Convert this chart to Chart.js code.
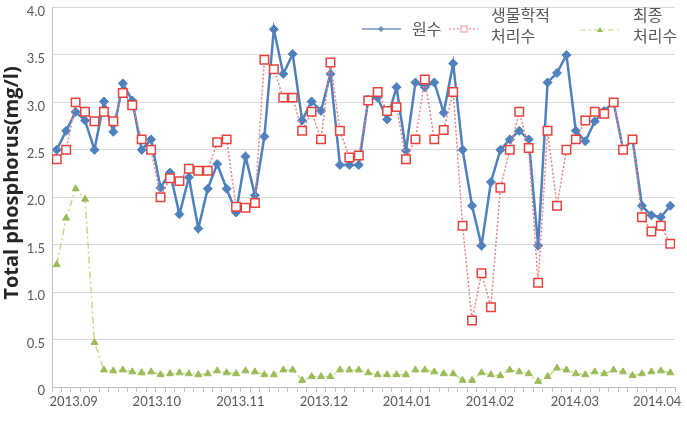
<!DOCTYPE html>
<html>
<head>
<meta charset="utf-8">
<script src="https://cdn.jsdelivr.net/npm/chart.js@4.4.1/dist/chart.umd.min.js"></script>
<style>
  html, body { margin: 0; padding: 0; background: #fff; }
</style>
</head>
<body>
<canvas id="myChart" width="687" height="432"></canvas>
<script>
// values, one per sampling date
const rawWater = [2.50, 2.70, 2.90, 2.81, 2.50, 3.01, 2.69, 3.20, 3.02, 2.50,
  2.61, 2.10, 2.26, 1.82, 2.21, 1.67, 2.09, 2.35, 2.09, 1.84,
  2.43, 2.02, 2.64, 3.77, 3.30, 3.51, 2.81, 3.01, 2.91, 3.30,
  2.34, 2.34, 2.34, 3.03, 3.05, 2.82, 3.16, 2.49, 3.21, 3.16,
  3.21, 2.89, 3.41, 2.50, 1.91, 1.49, 2.16, 2.50, 2.61, 2.70,
  2.61, 1.49, 3.21, 3.31, 3.50, 2.70, 2.59, 2.80, 2.91, 3.00,
  2.50, 2.61, 1.91, 1.81, 1.79, 1.91];

const bioTreated = [2.40, 2.50, 3.00, 2.90, 2.80, 2.90, 2.80, 3.10, 2.97, 2.61,
  2.50, 2.00, 2.20, 2.17, 2.30, 2.28, 2.28, 2.58, 2.61, 1.90,
  1.89, 1.94, 3.45, 3.35, 3.05, 3.05, 2.70, 2.90, 2.61, 3.42,
  2.70, 2.42, 2.44, 3.02, 3.11, 2.91, 2.95, 2.40, 2.61, 3.24,
  2.61, 2.71, 3.11, 1.70, 0.70, 1.20, 0.84, 2.10, 2.50, 2.90,
  2.52, 1.10, 2.70, 1.91, 2.50, 2.61, 2.81, 2.90, 2.88, 3.00,
  2.50, 2.61, 1.79, 1.64, 1.70, 1.51];

const finalTreated = [1.29, 1.78, 2.09, 1.98, 0.47, 0.18, 0.17, 0.18, 0.16, 0.15,
  0.16, 0.13, 0.14, 0.15, 0.14, 0.13, 0.14, 0.17, 0.15, 0.14,
  0.17, 0.16, 0.13, 0.13, 0.18, 0.18, 0.07, 0.11, 0.11, 0.11,
  0.18, 0.18, 0.18, 0.15, 0.13, 0.13, 0.13, 0.13, 0.18, 0.18,
  0.16, 0.14, 0.14, 0.07, 0.07, 0.15, 0.13, 0.12, 0.18, 0.16,
  0.14, 0.06, 0.11, 0.20, 0.18, 0.14, 0.13, 0.16, 0.14, 0.18,
  0.16, 0.12, 0.14, 0.16, 0.17, 0.15];

// month tick labels and where they sit along the sample index
const monthLabels = ['2013.09', '2013.10', '2013.11', '2013.12', '2014.01', '2014.02', '2014.03', '2014.04'];
const monthPos = [1.8, 10.6, 19.45, 28.3, 37.1, 45.9, 54.9, 63.6];

const seriesNames = ['원수', '생물학적 처리수', '최종 처리수'];
const yTitle = 'Total phosphorus(mg/l)';

function toPoints(arr) {
  return arr.map((v, i) => ({ x: i, y: v }));
}

// legend drawn inside the plot, top right, plus the y title
const insideLegend = {
  id: 'insideLegend',
  afterDraw(chart) {
    const c = chart.ctx;
    c.save();

    // 원수
    c.strokeStyle = '#97add0';
    c.lineWidth = 2;
    c.beginPath(); c.moveTo(362, 29); c.lineTo(401, 29); c.stroke();
    c.fillStyle = '#6f8fbf';
    c.beginPath(); c.moveTo(381, 26); c.lineTo(384, 29); c.lineTo(381, 32); c.lineTo(378, 29); c.closePath(); c.fill();

    // 생물학적 처리수
    c.strokeStyle = '#f1a3a3';
    c.lineWidth = 1.5;
    c.setLineDash([2, 2]);
    c.beginPath(); c.moveTo(449, 29); c.lineTo(478, 29); c.stroke();
    c.setLineDash([]);
    c.fillStyle = '#fff';
    c.strokeStyle = '#e89090';
    c.lineWidth = 1;
    c.fillRect(461, 26, 6, 6);
    c.strokeRect(461, 26, 6, 6);

    // 최종 처리수
    c.strokeStyle = '#d6e3a6';
    c.lineWidth = 1.5;
    c.setLineDash([6, 3, 2, 3]);
    c.beginPath(); c.moveTo(580, 30); c.lineTo(620, 30); c.stroke();
    c.setLineDash([]);
    c.fillStyle = '#9bbb59';
    c.beginPath(); c.moveTo(600, 27); c.lineTo(603, 32); c.lineTo(597, 32); c.closePath(); c.fill();

    c.font = '16px "Noto Sans CJK KR"';
    c.fillStyle = '#595959';
    c.textBaseline = 'middle';
    c.textAlign = 'left';
    c.fillText('원수', 412, 29);
    c.fillText('생물학적', 491, 15);
    c.fillText('처리수', 491, 36);
    c.fillText('최종', 633, 15);
    c.fillText('처리수', 633, 36);

    // y axis title
    c.translate(12, 183);
    c.rotate(-Math.PI / 2);
    c.textAlign = 'center';
    c.font = 'bold 20px "Open Sans"';
    c.fillStyle = '#262626';
    c.fillText(yTitle, 0, 0);
    c.restore();
  }
};

const ctx = document.getElementById('myChart');

new Chart(ctx, {
  type: 'line',
  data: {
    datasets: [
      {
        label: seriesNames[0],
        data: toPoints(rawWater),
        borderColor: '#4f81bd',
        borderWidth: 2.5,
        pointStyle: 'rectRot',
        pointRadius: 4.5,
        pointBackgroundColor: '#4f81bd',
        pointBorderColor: '#4f81bd',
        pointBorderWidth: 1,
        tension: 0,
        order: 2
      },
      {
        label: seriesNames[1],
        data: toPoints(bioTreated),
        borderColor: '#ee8080',
        borderWidth: 1.5,
        borderDash: [2, 2],
        pointStyle: 'rect',
        pointRadius: 6,
        pointBackgroundColor: '#ffffff',
        pointBorderColor: '#e8413c',
        pointBorderWidth: 1.5,
        tension: 0,
        order: 1
      },
      {
        label: seriesNames[2],
        data: toPoints(finalTreated),
        borderColor: '#c8d98f',
        borderWidth: 1.5,
        borderDash: [7, 3, 2, 3],
        pointStyle: 'triangle',
        pointRadius: 4,
        pointBackgroundColor: '#9bbb59',
        pointBorderColor: '#9bbb59',
        pointBorderWidth: 1,
        tension: 0,
        order: 3
      }
    ]
  },
  options: {
    responsive: false,
    animation: false,
    layout: { padding: { left: 0, right: 12, top: 3, bottom: 0 } },
    plugins: {
      legend: { display: false },
      tooltip: { enabled: false }
    },
    scales: {
      x: {
        type: 'linear',
        min: -0.5,
        max: 65.5,
        afterBuildTicks(scale) {
          const ticks = [];
          for (let i = -0.5; i <= 65.5; i += 1) ticks.push({ value: i });
          monthPos.forEach(p => ticks.push({ value: p }));
          scale.ticks = ticks;
        },
        afterFit(scale) { scale.height = 45; },
        ticks: {
          autoSkip: false,
          maxRotation: 0,
          padding: 2,
          color: '#595959',
          font: { family: 'Lato', size: 13 },
          callback(value) {
            const k = monthPos.indexOf(value);
            return k >= 0 ? monthLabels[k] : '';
          }
        },
        grid: {
          drawOnChartArea: false,
          tickLength: 5,
          color(c) {
            return c.tick && monthPos.includes(c.tick.value) ? 'rgba(0,0,0,0)' : '#bfbfbf';
          }
        },
        border: { color: '#bfbfbf' }
      },
      y: {
        min: 0,
        max: 4,
        afterFit(scale) {
          scale.width = 52;
          scale.paddingTop = 0;
          scale.paddingBottom = 0;
        },
        ticks: {
          stepSize: 0.5,
          padding: 7,
          labelOffset: 4,
          color: '#595959',
          font: { family: 'Lato', size: 13 },
          callback(value) {
            return value === 0 ? '0' : value.toFixed(1);
          }
        },
        grid: { color: '#d9d9d9', drawTicks: false },
        border: { color: '#bfbfbf' }
      }
    }
  },
  plugins: [insideLegend]
});
</script>
</body>
</html>
